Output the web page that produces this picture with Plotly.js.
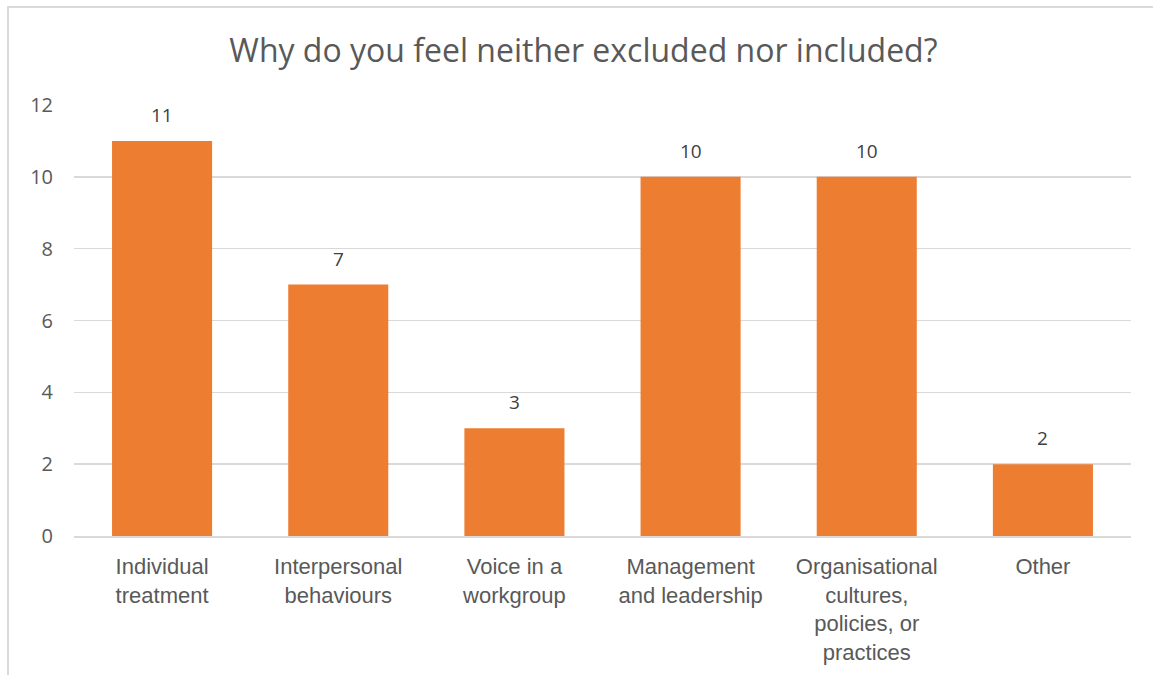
<!DOCTYPE html>
<html>
<head>
<meta charset="utf-8">
<script src="https://cdn.plot.ly/plotly-3.0.1.min.js"></script>
<style>
  html, body { margin: 0; padding: 0; background: #fff; }
  #wrap { position: relative; width: 1153px; height: 675px; overflow: hidden; }
  #frame { position: absolute; left: 7px; top: 6px; width: 1200px; height: 700px;
           border-left: 2px solid #d9d9d9; border-top: 2px solid #d9d9d9; pointer-events: none; }
  #chart { position: absolute; left: 0; top: 0; width: 1153px; height: 675px; }
</style>
</head>
<body>
<div id="wrap">
  <div id="chart"></div>
  <div id="frame"></div>
</div>
<script>
const categories = [
  "Individual<br>treatment",
  "Interpersonal<br>behaviours",
  "Voice in a<br>workgroup",
  "Management<br>and leadership",
  "Organisational<br>cultures,<br>policies, or<br>practices",
  "Other"
];
const counts = [11, 7, 3, 10, 10, 2];
const yTicks = [0, 2, 4, 6, 8, 10, 12];
const chartTitle = "Why do you feel neither excluded nor included?";

const textColor = "#595959";

const trace = {
  type: "bar",
  x: categories,
  y: counts,
  marker: { color: "#ED7D31" },
  hoverinfo: "x+y"
};

const annotations = categories.map((c, i) => ({
  x: c,
  y: counts[i],
  xref: "x",
  yref: "y",
  text: String(counts[i]),
  showarrow: false,
  yanchor: "bottom",
  yshift: 11,
  font: { family: "Open Sans, sans-serif", size: 19, color: "#404040" }
}));

const layout = {
  width: 1153,
  height: 675,
  paper_bgcolor: "#ffffff",
  plot_bgcolor: "#ffffff",
  margin: { l: 74, r: 22, t: 105, b: 139 },
  bargap: 0.432,
  showlegend: false,
  title: {
    text: chartTitle,
    x: 0.506,
    xanchor: "center",
    y: 0.925,
    yanchor: "middle",
    font: { family: "Open Sans, sans-serif", size: 32, color: textColor }
  },
  xaxis: {
    type: "category",
    tickfont: { family: "Liberation Sans, Arial, sans-serif", size: 22, color: textColor },
    ticks: "",
    ticklabelstandoff: 10,
    showgrid: false,
    showline: true,
    linecolor: "#d9d9d9",
    linewidth: 1.5,
    automargin: false,
    fixedrange: true
  },
  yaxis: {
    range: [0, 12],
    tickvals: yTicks,
    ticktext: yTicks.map(String),
    tickfont: { family: "Open Sans, sans-serif", size: 20, color: textColor },
    ticks: "",
    ticklabelstandoff: 20,
    showgrid: true,
    gridcolor: "#d9d9d9",
    gridwidth: 1.5,
    zeroline: false,
    showline: false,
    automargin: false,
    fixedrange: true
  },
  annotations: annotations
};

Plotly.newPlot("chart", [trace], layout, { displayModeBar: false, staticPlot: true });
</script>
</body>
</html>
